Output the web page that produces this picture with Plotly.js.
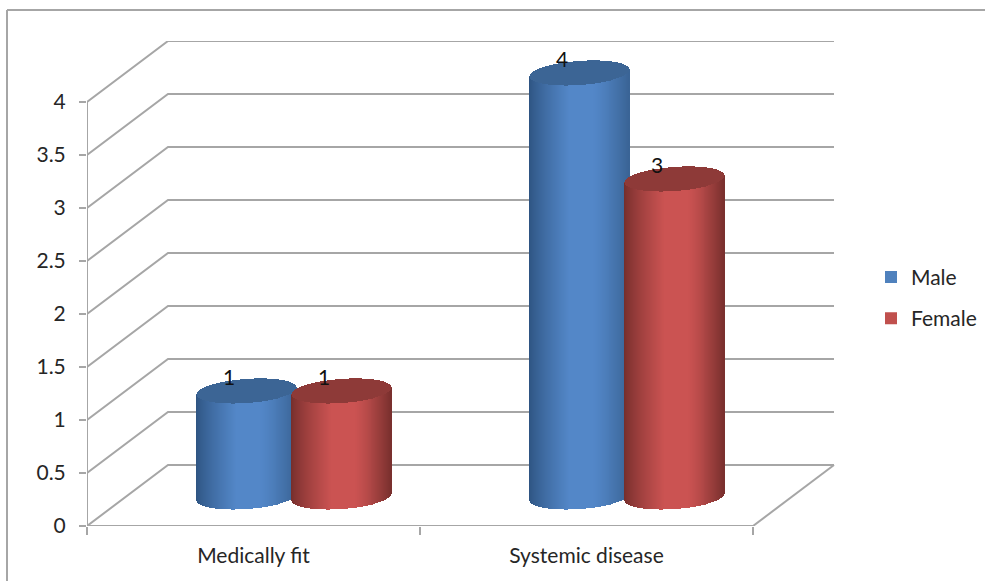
<!DOCTYPE html>
<html>
<head>
<meta charset="utf-8">
<script src="https://cdn.plot.ly/plotly-3.0.1.min.js"></script>
<style>html,body{margin:0;padding:0;background:#fff}#chart{width:985px;height:581px}</style>
</head>
<body>
<div id="chart"></div>
<script>
var categories = ["Medically fit", "Systemic disease"];
var categoryPos = [0.5, 1.5];
var male = [1, 4];
var female = [1, 3];
var yTickVals = [0, 0.5, 1, 1.5, 2, 2.5, 3, 3.5, 4];
var yTickText = ["0", "0.5", "1", "1.5", "2", "2.5", "3", "3.5", "4"];
var xBoundaries = [0, 1, 2];

var maleColors = {dark: [46, 84, 130], mid: [83, 135, 200], end: [58, 100, 150], cap: [60, 101, 149], legend: "#4f81bd"};
var femaleColors = {dark: [118, 46, 44], mid: [203, 83, 82], end: [122, 48, 46], cap: [142, 58, 56], legend: "#c0504d"};

var GRID = "#a6a6a6", TEXT = "#262626", FONT = "Lato, 'Open Sans', sans-serif";
var PX_X = 333, PX_Y = 106;
var dx = 81 / PX_X, dy = 61 / PX_Y;          // depth of the 3-D box
var radius = 49.5 / PX_X, tilt = 3.5 / PX_Y, semi = 12 / PX_Y, pitch = 47.5 / PX_X;
var baseX = 41 / PX_X, baseY = 29 / PX_Y;    // bars stand in the middle of the floor
var xMax = 748 / PX_X, yMax = 485 / PX_Y;

function shade(c, t) {
  var a, from, to;
  if (t < -0.2) { a = (t + 1) / 0.8; from = c.dark; to = c.mid; }
  else if (t < 0.25) { a = 0; from = c.mid; to = c.mid; }
  else { a = (t - 0.25) / 0.75; from = c.mid; to = c.end; }
  a = Math.pow(a, t < 0 ? 0.8 : 1.3);
  return "rgb(" + [0, 1, 2].map(function (i) { return Math.round(from[i] + (to[i] - from[i]) * a); }).join(",") + ")";
}

function cylinders(values, side, colors, name) {
  var xs = [], bases = [], heights = [], cols = [], n = 100;
  values.forEach(function (v, k) {
    var cx = categoryPos[k] + baseX + side * pitch;
    [0, 1].forEach(function (layer) {
      for (var i = 0; i <= n; i++) {
        var t = -1 + 2 * i / n, c = Math.sqrt(Math.max(0, 1 - t * t));
        var low = baseY + tilt * t - semi * c, top = v + baseY + tilt * t;
        xs.push(cx + t * radius);
        if (layer === 0) {
          bases.push(low); heights.push(v); cols.push(shade(colors, t));
        } else {
          bases.push(top - semi * c); heights.push(2 * semi * c + 0.001);
          cols.push("rgb(" + colors.cap.join(",") + ")");
        }
      }
    });
  });
  return {type: "bar", xaxis: "x2", yaxis: "y2", x: xs, base: bases, y: heights, width: 1.4 / PX_X,
    marker: {color: cols, line: {width: 0}}, showlegend: false, hoverinfo: "skip", name: name};
}

// box: back wall and side wall gridlines, floor edges
var gx = [], gy = [];
yTickVals.forEach(function (v) {
  gx.push(0, dx, 2 + dx, null); gy.push(v, v + dy, v + dy, null);
});
gx.push(2, 2 + dx, null, 0, 2, null, 0, 0); gy.push(0, dy, null, 0, 0, null, 0, 4);
var box = {type: "scatter", mode: "lines", x: gx, y: gy, line: {color: GRID, width: 2}, cliponaxis: false,
  showlegend: false, hoverinfo: "skip"};

function labels(values, side) {
  return {type: "scatter", mode: "text", xaxis: "x2", yaxis: "y2", cliponaxis: false,
    x: values.map(function (v, k) { return categoryPos[k] + baseX + side * pitch - 18 / PX_X; }),
    y: values.map(function (v) { return v + baseY + 11 / PX_Y; }),
    text: values.map(String), textposition: "middle center",
    textfont: {family: FONT, size: 21, color: "#111"}, showlegend: false, hoverinfo: "skip"};
}

function legendItem(name, color, group) {
  return {type: "bar", x: [null], y: [null], name: name, marker: {color: color}, legendgroup: group};
}

var data = [
  box,
  legendItem("Male", maleColors.legend, "m"),
  legendItem("Female", femaleColors.legend, "f"),
  cylinders(male, -1, maleColors, "Male"),
  cylinders(female, 1, femaleColors, "Female"),
  labels(male, -1),
  labels(female, 1)
];

var frame = {color: "#a6a6a6", width: 2};
var layout = {
  width: 985, height: 581,
  margin: {l: 87, r: 150, t: 41, b: 55, pad: 0, autoexpand: false},
  paper_bgcolor: "#fff", plot_bgcolor: "rgba(0,0,0,0)",
  barmode: "overlay", bargap: 0,
  font: {family: FONT, size: 21, color: TEXT},
  xaxis: {range: [0, xMax], tickmode: "array", tickvals: categoryPos, ticktext: categories, ticks: "",
    ticklabelstandoff: 15, showgrid: false, zeroline: false, showline: false,
    tickfont: {family: FONT, size: 21, color: TEXT},
    minor: {tickmode: "array", tickvals: xBoundaries, ticks: "outside", ticklen: 8, tickwidth: 2, tickcolor: GRID, showgrid: false}},
  yaxis: {range: [0, yMax], tickmode: "array", tickvals: yTickVals, ticktext: yTickText, ticks: "outside", ticklen: 7,
    tickwidth: 2, tickcolor: GRID, ticklabelstandoff: 9, showgrid: false, zeroline: false, showline: false,
    tickfont: {family: FONT, size: 21, color: TEXT}},
  xaxis2: {range: [0, xMax], overlaying: "x", visible: false},
  yaxis2: {range: [0, yMax], overlaying: "y", visible: false},
  legend: {x: (871 - 87) / 748, xanchor: "left", y: 0.555, yanchor: "top", traceorder: "grouped", tracegroupgap: 11,
    font: {family: FONT, size: 21, color: TEXT}, bgcolor: "rgba(0,0,0,0)"},
  shapes: [
    {type: "line", xref: "paper", yref: "paper", x0: (7 - 87) / 748, x1: (985 - 87) / 748, y0: (581 - 10 - 55) / 485, y1: (581 - 10 - 55) / 485, line: frame},
    {type: "line", xref: "paper", yref: "paper", x0: (7 - 87) / 748, x1: (7 - 87) / 748, y0: -55 / 485, y1: (581 - 10 - 55) / 485, line: frame}
  ]
};
Plotly.newPlot("chart", data, layout, {displayModeBar: false, responsive: false});
</script>
</body>
</html>
